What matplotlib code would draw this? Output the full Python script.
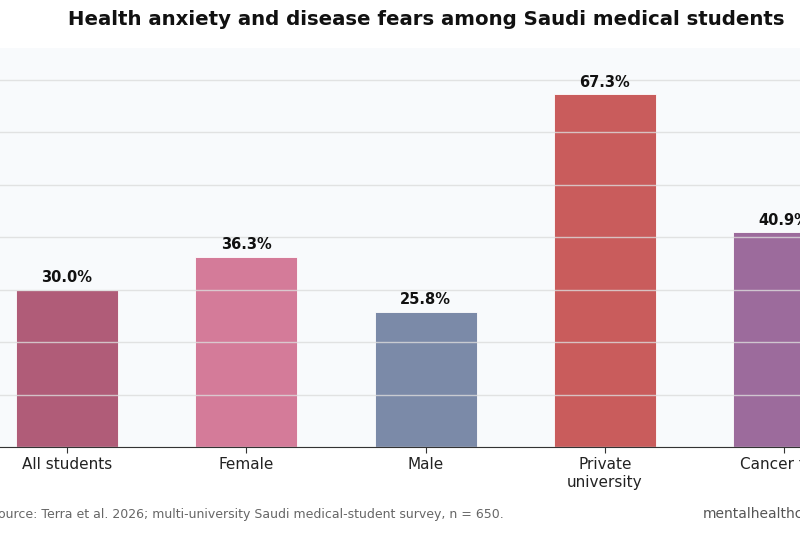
import numpy as np
import matplotlib
matplotlib.use("Agg")
import matplotlib.pyplot as plt

# data
groups = ["All students", "Female", "Male", "Private\nuniversity", "Cancer fear"]
pct = [30.0, 36.3, 25.8, 67.3, 40.9]
colors = ["#b05c78", "#d47b99", "#7b8aa8", "#c95c5c", "#9c6b9c"]

fig = plt.figure(figsize=(8, 5.33), dpi=100)
fig.patch.set_facecolor("white")

# axes spill past the figure edges like the cropped original
ax = fig.add_axes([-0.0507, 0.1614, 1.1655, 0.7486])
ax.set_facecolor("#f8fafc")

x = np.arange(len(groups))
bars = ax.bar(x, pct, width=0.57, color=colors, edgecolor="white", linewidth=0.6, zorder=1)

for b, v in zip(bars, pct):
    ax.annotate(f"{v:.1f}%", (b.get_x() + b.get_width() / 2, v),
                xytext=(0, 3), textcoords="offset points",
                ha="center", va="bottom", fontsize=10.5, fontweight="bold", color="#111111")

ax.set_xlim(-0.6, 4.6)
ax.set_ylim(0, max(pct) * 1.13)
ax.set_yticks(np.arange(0, 80, 10))
ax.yaxis.grid(True, color="#dcdcdc", linewidth=1.0, alpha=0.8, zorder=2)
ax.set_axisbelow(False)
ax.set_xticks(x)
ax.set_xticklabels(groups, fontsize=11, color="#222222")
ax.tick_params(axis="y", left=False, labelleft=False)
ax.tick_params(axis="x", length=4, color="#333333")
for s in ["top", "right", "left"]:
    ax.spines[s].set_visible(False)
ax.spines["bottom"].set_color("#333333")

fig.text(0.5325, 0.964, "Health anxiety and disease fears among Saudi medical students",
         ha="center", va="center", fontsize=14.2, fontweight="bold", color="#111111")
fig.text(-0.012, 0.035, "Source: Terra et al. 2026; multi-university Saudi medical-student survey, n = 650.",
         ha="left", va="center", fontsize=9, color="#666666")
fig.text(0.879, 0.035, "mentalhealthcenter.org", ha="left", va="center", fontsize=10, color="#555555")

fig.savefig("out.png", dpi=100)
